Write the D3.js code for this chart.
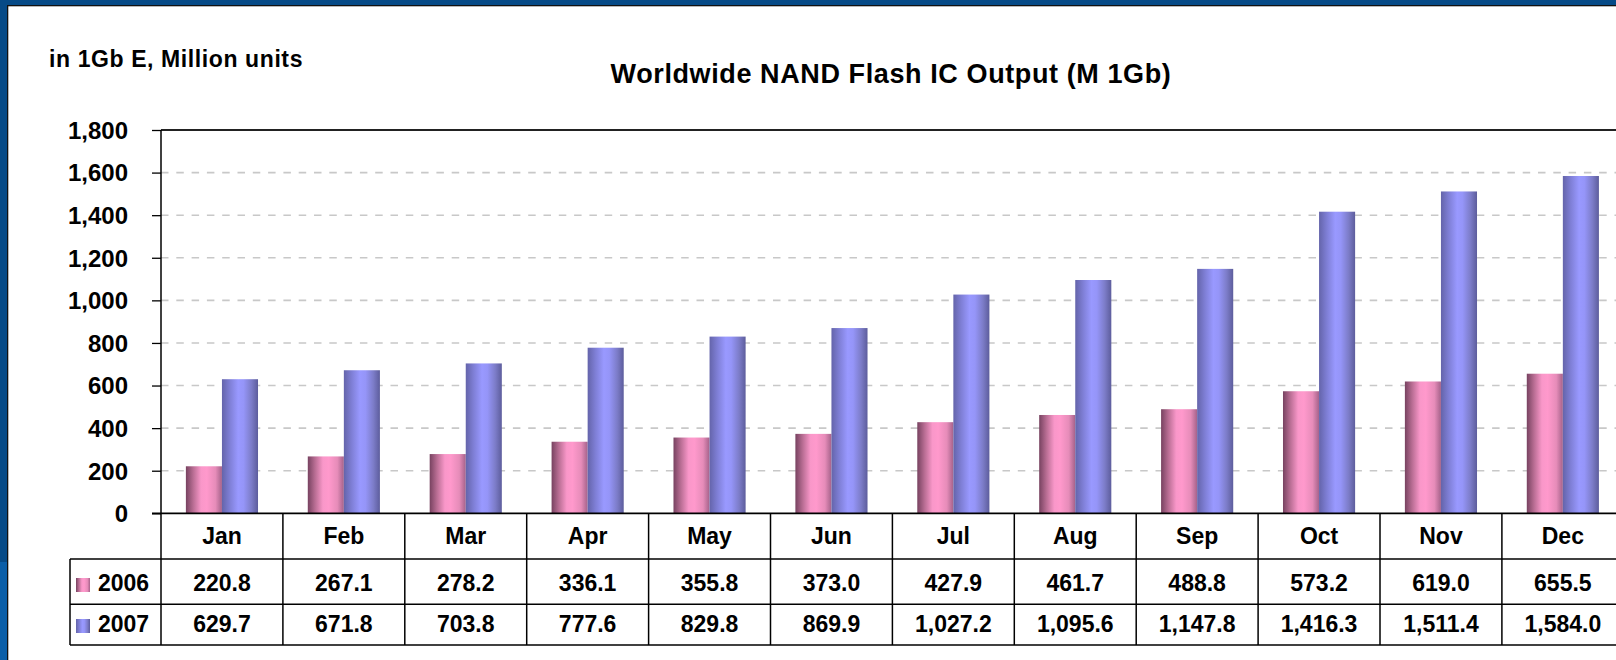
<!DOCTYPE html>
<html>
<head>
<meta charset="utf-8">
<script src="https://cdn.jsdelivr.net/npm/d3@7"></script>
<style>
html,body{margin:0;padding:0;background:#fff;overflow:hidden;}
svg{display:block;}
text{font-family:"Liberation Sans",Arial,sans-serif;font-weight:bold;fill:#000;}
</style>
</head>
<body>
<svg id="chart" width="1616" height="660"></svg>
<script>
const months = ["Jan","Feb","Mar","Apr","May","Jun","Jul","Aug","Sep","Oct","Nov","Dec"];
const seriesNames = ["2006","2007"];
const values2006 = [220.8,267.1,278.2,336.1,355.8,373.0,427.9,461.7,488.8,573.2,619.0,655.5];
const values2007 = [629.7,671.8,703.8,777.6,829.8,869.9,1027.2,1095.6,1147.8,1416.3,1511.4,1584.0];
const labels2006 = ["220.8","267.1","278.2","336.1","355.8","373.0","427.9","461.7","488.8","573.2","619.0","655.5"];
const labels2007 = ["629.7","671.8","703.8","777.6","829.8","869.9","1,027.2","1,095.6","1,147.8","1,416.3","1,511.4","1,584.0"];
const yTicks = [0,200,400,600,800,1000,1200,1400,1600,1800];
const title = "Worldwide NAND Flash IC Output (M 1Gb)";
const unitLabel = "in 1Gb E, Million units";

const svg = d3.select("#chart");
const W = 1616, H = 660;

// gradients
const defs = svg.append("defs");
function grad(id, stops){
  const g = defs.append("linearGradient").attr("id", id).attr("x1","0%").attr("x2","100%").attr("y1","0%").attr("y2","0%");
  stops.forEach(s => g.append("stop").attr("offset", s[0]).attr("stop-color", s[1]));
}
grad("gPink", [["0%","#774260"],["20%","#b86d93"],["42%","#f997c9"],["58%","#ff99cc"],["82%","#e68cb9"],["100%","#a5628a"]]);
grad("gBlue", [["0%","#6464aa"],["22%","#7f7fd6"],["45%","#9999ff"],["60%","#9595f8"],["82%","#7c7cc8"],["100%","#5d5d9c"]]);
const fills = {"2006":"url(#gPink)","2007":"url(#gBlue)"};

// white background + frame
svg.append("rect").attr("x",0).attr("y",0).attr("width",W).attr("height",H).attr("fill","#fff");
svg.append("rect").attr("x",0).attr("y",0).attr("width",W).attr("height",5).attr("fill","#064a87");
svg.append("rect").attr("x",0).attr("y",0).attr("width",7).attr("height",562).attr("fill","#064a87");
svg.append("rect").attr("x",0).attr("y",562).attr("width",7).attr("height",H-562).attr("fill","#0a5ea8");
svg.append("rect").attr("x",7).attr("y",5).attr("width",W-7).attr("height",1.3).attr("fill","#111");
svg.append("rect").attr("x",7).attr("y",5).attr("width",1.3).attr("height",H-5).attr("fill","#111");

// scales
const plotLeft = 161, plotTop = 130, plotBottom = 513.3;
const step = 121.9;
const x = d3.scaleBand().domain(months).range([plotLeft, plotLeft + step*months.length]).padding(0);
const x1 = d3.scaleBand().domain(seriesNames).range([0, x.bandwidth()]).paddingInner(0).paddingOuter(0.69);
const y = d3.scaleLinear().domain([0,1800]).range([plotBottom, plotTop]);

// gridlines
svg.append("g").selectAll("line").data(yTicks.filter(t => t>0 && t<1800)).join("line")
  .attr("x1", plotLeft).attr("x2", W)
  .attr("y1", d => y(d)).attr("y2", d => y(d))
  .attr("stroke","#c8c8c8").attr("stroke-width",1.6).attr("stroke-dasharray","7.5,7.8");
// top border
svg.append("line").attr("x1",plotLeft).attr("x2",W).attr("y1",y(1800)).attr("y2",y(1800)).attr("stroke","#222").attr("stroke-width",1.8);

// bars
const data = months.map((m,i) => ({m, vals:[{s:"2006",v:values2006[i]},{s:"2007",v:values2007[i]}]}));
const groups = svg.append("g").selectAll("g").data(data).join("g").attr("transform", d => `translate(${x(d.m)},0)`);
groups.selectAll("rect").data(d => d.vals).join("rect")
  .attr("x", d => x1(d.s)).attr("width", x1.bandwidth())
  .attr("y", d => y(d.v)).attr("height", d => y(0) - y(d.v))
  .attr("fill", d => fills[d.s]);

// y axis
const yAxis = d3.axisLeft(y).tickValues(yTicks).tickSize(9).tickPadding(24).tickFormat(d3.format(","));
const ya = svg.append("g").attr("transform",`translate(${plotLeft},0)`).call(yAxis);
ya.select(".domain").remove();
ya.selectAll(".tick line").attr("stroke","#000").attr("stroke-width",1.3);
ya.selectAll(".tick text").attr("font-size","24px").attr("font-family","Liberation Sans, Arial, sans-serif").attr("font-weight","bold").attr("fill","#000").attr("dy","0.35em");
svg.append("line").attr("x1",plotLeft).attr("x2",plotLeft).attr("y1",plotTop).attr("y2",645).attr("stroke","#000").attr("stroke-width",1.5);

// x axis / data table
const rowTop = [513.3, 559, 604.3, 645];
svg.append("line").attr("x1",152).attr("x2",W).attr("y1",rowTop[0]).attr("y2",rowTop[0]).attr("stroke","#000").attr("stroke-width",1.8);
[1,2,3].forEach(r => svg.append("line").attr("x1",70).attr("x2",W).attr("y1",rowTop[r]).attr("y2",rowTop[r]).attr("stroke","#000").attr("stroke-width",1.5));
svg.append("line").attr("x1",70).attr("x2",70).attr("y1",rowTop[1]).attr("y2",rowTop[3]).attr("stroke","#000").attr("stroke-width",1.5);
svg.append("g").selectAll("line").data(months).join("line")
  .attr("x1", d => x(d) + x.bandwidth()).attr("x2", d => x(d) + x.bandwidth())
  .attr("y1", rowTop[0]).attr("y2", rowTop[3]).attr("stroke","#000").attr("stroke-width",1.5);

const cx = d => x(d) + x.bandwidth()/2;
svg.append("g").selectAll("text").data(months).join("text")
  .attr("x", cx).attr("y", 543.5).attr("text-anchor","middle").attr("font-size","23px").text(d => d);
svg.append("g").selectAll("text").data(months).join("text")
  .attr("x", cx).attr("y", 590.5).attr("text-anchor","middle").attr("font-size","23px").text((d,i) => labels2006[i]);
svg.append("g").selectAll("text").data(months).join("text")
  .attr("x", cx).attr("y", 631.5).attr("text-anchor","middle").attr("font-size","23px").text((d,i) => labels2007[i]);

// legend keys in table
const legendY = {"2006":[578,590.5],"2007":[619,631.5]};
seriesNames.forEach(s => {
  svg.append("rect").attr("x",76).attr("y",legendY[s][0]).attr("width",14).attr("height",14).attr("fill",fills[s]);
  svg.append("text").attr("x",98).attr("y",legendY[s][1]).attr("font-size","23px").text(s);
});

// titles
svg.append("text").attr("x",891).attr("y",82.5).attr("text-anchor","middle").attr("font-size","27px").attr("letter-spacing","0.6px").text(title);
svg.append("text").attr("x",49).attr("y",66.5).attr("font-size","23px").attr("letter-spacing","0.6px").text(unitLabel);
</script>
</body>
</html>
